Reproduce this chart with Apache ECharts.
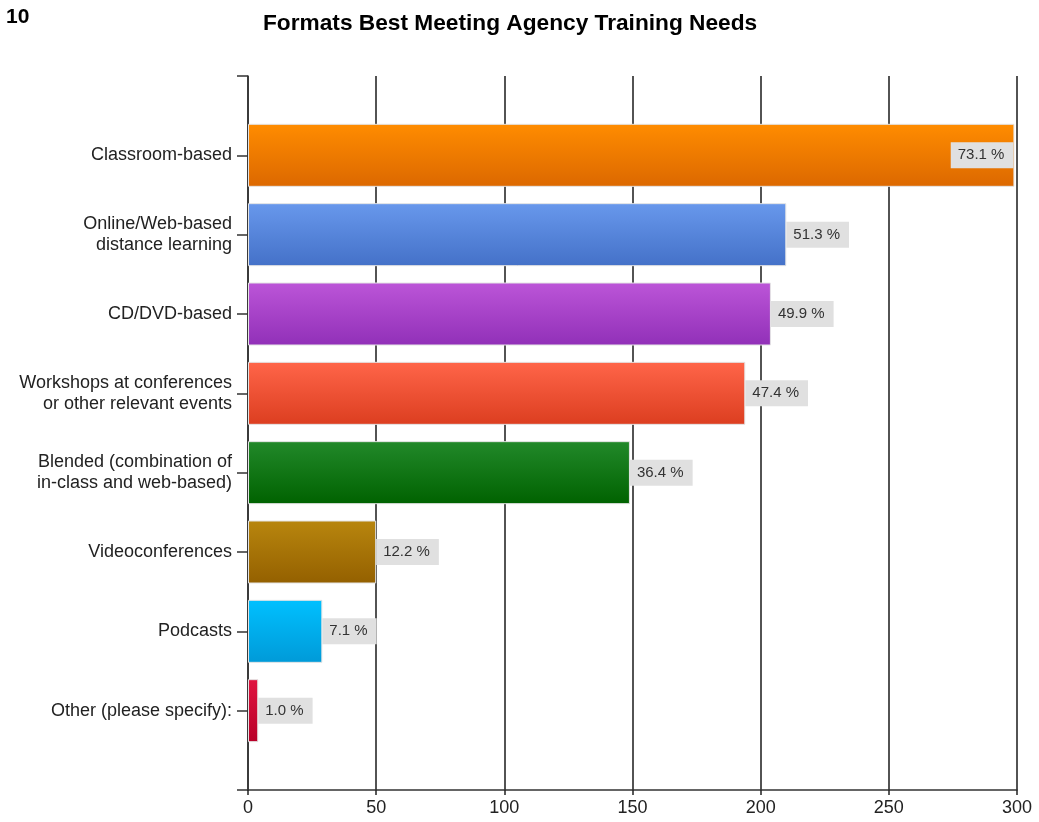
<!DOCTYPE html>
<html>
<head>
<meta charset="utf-8">
<script src="https://cdn.jsdelivr.net/npm/echarts@6/dist/echarts.min.js"></script>
<style>
  html, body { margin: 0; padding: 0; background: #fff; }
  #chart { width: 1039px; height: 822px; }
</style>
</head>
<body>
<div id="chart"></div>
<script>
// Survey question 10: preferred training formats (respondent counts)
const categories = [
  'Classroom-based',
  'Online/Web-based\ndistance learning',
  'CD/DVD-based',
  'Workshops at conferences\nor other relevant events',
  'Blended (combination of\nin-class and web-based)',
  'Videoconferences',
  'Podcasts',
  'Other (please specify):'
];
const responses = [299, 210, 204, 194, 149, 50, 29, 4];
const respondents = 409;
const xTicks = [0, 50, 100, 150, 200, 250, 300];

// Bar fills, top to bottom of each bar
const barPalette = [
  ['#ff8c00', '#dc6800'],
  ['#6898ec', '#4471c8'],
  ['#bc55d8', '#9130b8'],
  ['#ff6549', '#dc3e20'],
  ['#22892a', '#006200'],
  ['#b8860e', '#946000'],
  ['#00c0ff', '#009ad8'],
  ['#e01440', '#b80028']
];

const pct = v => (v / respondents * 100).toFixed(1) + ' %';

// Empty slots at both ends place categories on whole steps of the axis
const axisCats = [''].concat(categories, ['']);
const maxVal = xTicks[xTicks.length - 1];

const seriesData = ['-'].concat(responses.map((v, i) => ({
  value: v,
  itemStyle: {
    color: new echarts.graphic.LinearGradient(0, 0, 0, 1, [
      { offset: 0, color: barPalette[i][0] },
      { offset: 1, color: barPalette[i][1] }
    ])
  },
  label: v / maxVal > 0.9 ? { position: 'insideRight', distance: 1 } : { position: 'right', distance: 0 }
})), ['-']);

const chart = echarts.init(document.getElementById('chart'), null, { renderer: 'canvas' });
chart.setOption({
  animation: false,
  backgroundColor: '#ffffff',
  title: [
    {
      text: '10',
      left: 1, top: 2,
      textStyle: { fontFamily: 'Liberation Sans, Arial, sans-serif', fontSize: 21, fontWeight: 'bold', color: '#000' }
    },
    {
      text: 'Formats Best Meeting Agency Training Needs',
      left: 258, top: 7,
      textStyle: { fontFamily: 'Liberation Sans, Arial, sans-serif', fontSize: 22.7, fontWeight: 'bold', color: '#000' }
    }
  ],
  grid: { left: 248, right: 22, top: 76, bottom: 32, containLabel: false },
  xAxis: {
    type: 'value',
    min: xTicks[0],
    max: maxVal,
    interval: xTicks[1] - xTicks[0],
    axisLine: { show: true, lineStyle: { color: '#333', width: 1.5 } },
    axisTick: { show: true, length: 5, lineStyle: { color: '#222', width: 1.5 } },
    splitLine: { show: true, lineStyle: { color: '#1a1a1a', width: 1.5 } },
    axisLabel: { fontFamily: 'Liberation Sans, Arial, sans-serif', fontSize: 18, color: '#222', margin: 9 }
  },
  yAxis: {
    type: 'category',
    inverse: true,
    boundaryGap: false,
    data: axisCats,
    axisLine: { show: true, lineStyle: { color: '#333', width: 1.5 } },
    axisTick: { show: true, length: 11, lineStyle: { color: '#333', width: 1.5 } },
    splitLine: { show: false },
    axisLabel: {
      fontFamily: 'Liberation Sans, Arial, sans-serif',
      fontSize: 18, lineHeight: 21, color: '#222', margin: 16, align: 'right',
      padding: [3, 0, 0, 0]
    }
  },
  series: [{
    type: 'bar',
    barWidth: 63,
    data: seriesData,
    itemStyle: { borderColor: '#e4e4e4', borderWidth: 1 },
    label: {
      show: true,
      formatter: p => pct(p.value),
      fontFamily: 'Liberation Sans, Arial, sans-serif',
      fontSize: 15,
      color: '#333',
      backgroundColor: '#e0e0e0',
      padding: [6, 9, 5, 7]
    }
  }]
});
</script>
</body>
</html>
